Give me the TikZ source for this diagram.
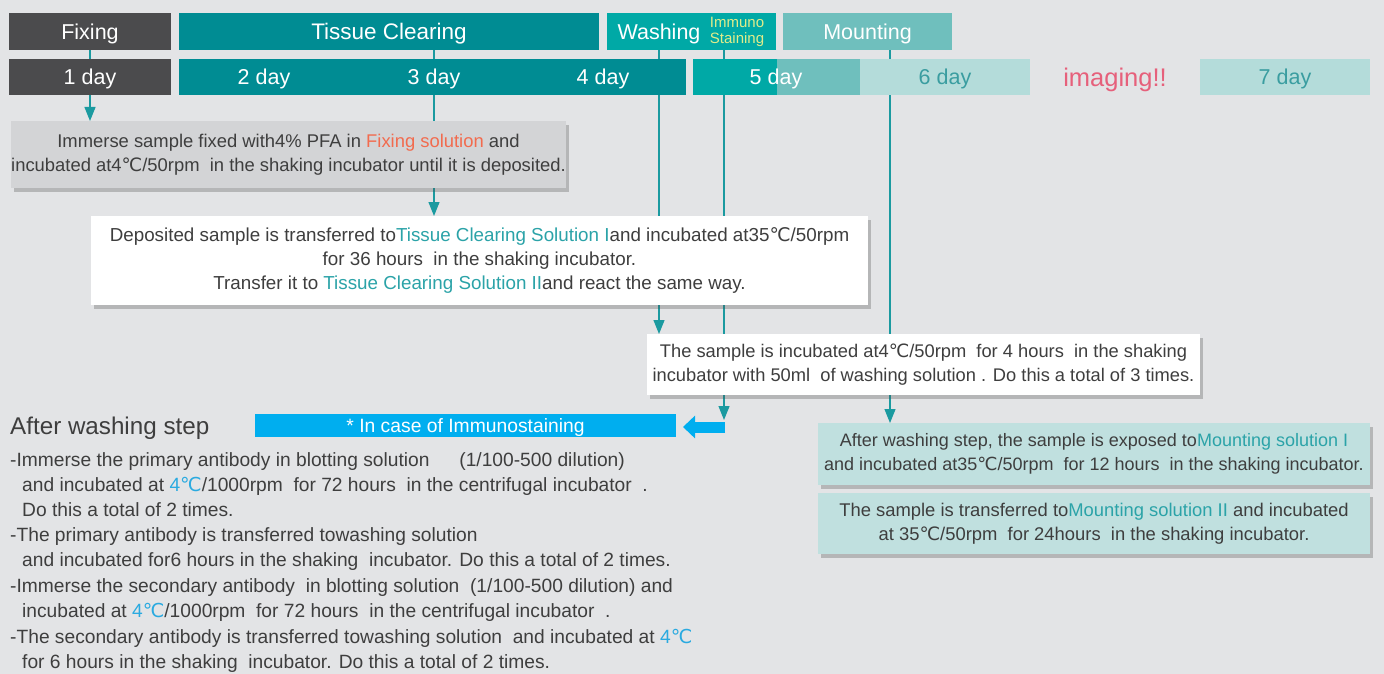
\documentclass[tikz,border=0pt]{standalone}
\usepackage{fontspec}
\setmainfont{Liberation Sans}
\newfontfamily\djv{DejaVu Sans}
\usetikzlibrary{arrows.meta,shadows}
\definecolor{bgc}{HTML}{E3E4E6}
\definecolor{darkg}{HTML}{4B4B4D}
\definecolor{tealA}{HTML}{008C93}
\definecolor{tealB}{HTML}{00A9A6}
\definecolor{tealC}{HTML}{6FBFBD}
\definecolor{tealD}{HTML}{B4DCDA}
\definecolor{greybox}{HTML}{D3D4D6}
\definecolor{mountbox}{HTML}{C0E0DF}
\definecolor{cyanC}{HTML}{00AEEF}
\definecolor{lineC}{HTML}{1B9AA0}
\definecolor{txt}{HTML}{3E3E3E}
\definecolor{orangeC}{HTML}{F26B4E}
\definecolor{hl}{HTML}{2BA3A8}
\definecolor{pinkC}{HTML}{E6607B}
\definecolor{daytxt}{HTML}{3A9DA0}
\definecolor{yel}{HTML}{E0EC8A}
\definecolor{cyt}{HTML}{2AAAE0}
\newcommand\degc{{\djv ℃}}
\pgfdeclarelayer{back}
\pgfdeclarelayer{lines}
\pgfsetlayers{back,lines,main}
\begin{document}
\begin{tikzpicture}[x=1pt,y=-1pt,
  bar/.style={anchor=north west,inner sep=0pt,outer sep=0pt,text=white,text depth=0pt,font=\fontsize{21.5}{24}\selectfont},
  daylbl/.style={text=white,text depth=0pt,font=\fontsize{21.5}{24}\selectfont,inner sep=0pt},
  infobox/.style={inner sep=0pt,outer sep=0pt,align=center,text=txt,font=\fontsize{18}{24}\selectfont,
    drop shadow={shadow xshift=3pt,shadow yshift=-4pt,opacity=0.3,fill=black!70}},
  conn/.style={draw=lineC,line width=1.2pt,-{Triangle[width=11pt,length=14pt]}},
  listline/.style={anchor=base west,inner sep=0pt,text=txt,font=\fontsize{19.2}{24}\selectfont},
]
\useasboundingbox (0,0) rectangle (1384,674);
\begin{pgfonlayer}{back}
\fill[bgc] (0,0) rectangle (1384,674);
\end{pgfonlayer}

% top row
\node[bar,fill=darkg,minimum width=162pt,minimum height=37pt] (fix) at (9,13) {Fixing};
\node[bar,fill=tealA,minimum width=420pt,minimum height=37pt,font=\fontsize{22.5}{24}\selectfont] (tc) at (179,13) {Tissue Clearing};
\node[bar,fill=tealB,minimum width=169pt,minimum height=37pt] (wash) at (607,13) {};
\node[daylbl] (washl) at (659,31.5) {Washing};
\node[inner sep=0pt,align=center,text=yel,font=\fontsize{15}{16}\selectfont] (imml) at (737,31.5) {Immuno\\Staining};
\node[bar,fill=tealC,minimum width=169pt,minimum height=37pt] (mount) at (783,13) {Mounting};

% second row
\node[bar,fill=darkg,minimum width=162pt,minimum height=36pt] (d1) at (9,59) {1 day};
\node[bar,fill=tealA,minimum width=507pt,minimum height=36pt] (d24) at (179,59) {};
\node[daylbl] (l2) at (264,77) {2 day};
\node[daylbl] (l3) at (434,77) {3 day};
\node[daylbl] (l4) at (603,77) {4 day};
\node[bar,fill=tealB,minimum width=84pt,minimum height=36pt] (d5a) at (693,59) {};
\node[bar,fill=tealC,minimum width=83pt,minimum height=36pt] (d5b) at (777,59) {};
\node[daylbl] (l5) at (776,77) {5 day};
\node[bar,fill=tealD,text=daytxt,minimum width=170pt,minimum height=36pt] (d6) at (860,59) {6 day};
\node[daylbl,text=pinkC,font=\fontsize{25.5}{28}\selectfont] (img) at (1115,77) {imaging!!};
\node[bar,fill=tealD,text=daytxt,minimum width=170pt,minimum height=36pt] (d7) at (1200,59) {7 day};

% boxes
\node[infobox,fill=greybox,minimum width=555pt,minimum height=67pt,font=\fontsize{18.4}{24}\selectfont] (gb) at (288.5,154.5)
 {Immerse sample fixed with4\% PFA in \textcolor{orangeC}{Fixing solution} and\\
  incubated at4\degc/50rpm\ \ in the shaking incubator until it is deposited.};
\node[infobox,fill=white,minimum width=777pt,minimum height=89pt,font=\fontsize{18.8}{24}\selectfont] (wb1) at (479.5,260.5)
 {Deposited sample is transferred to\textcolor{hl}{Tissue Clearing Solution I}and incubated at35\degc/50rpm\\
  for 36 hours\ \ in the shaking incubator.\\
  Transfer it to \textcolor{hl}{Tissue Clearing Solution II}and react the same way.};
\node[infobox,fill=white,minimum width=553pt,minimum height=61pt,font=\fontsize{18.3}{24}\selectfont] (wb2) at (923.5,364.5)
 {The sample is incubated at4\degc/50rpm\ \ for 4 hours\ \ in the shaking\\
  incubator with 50ml\ \ of washing solution\ . Do this a total of 3 times.};
\node[infobox,fill=mountbox,minimum width=552pt,minimum height=62pt] (mb1) at (1094,454)
 {After washing step, the sample is exposed to\textcolor{hl}{Mounting solution I}\\
  and incubated at35\degc/50rpm\ \ for 12 hours\ \ in the shaking incubator.};
\node[infobox,fill=mountbox,minimum width=552pt,minimum height=61pt,font=\fontsize{18.4}{24}\selectfont] (mb2) at (1094,523.5)
 {The sample is transferred to\textcolor{hl}{Mounting solution II} and incubated\\
  at 35\degc/50rpm\ \ for 24hours\ \ in the shaking incubator.};

% immunostaining bar
\node[inner sep=0pt,outer sep=0pt,fill=cyanC,text=white,text depth=0pt,minimum width=421pt,minimum height=23pt,
  font=\fontsize{19.3}{22}\selectfont] (ib) at (465.5,425.5) {* In case of Immunostaining};

% after washing text
\node[listline,font=\fontsize{24.2}{26}\selectfont] (aws) at (10,434) {After washing step};
\node[listline] (t1) at (10,466) {-Immerse the primary antibody in blotting solution\quad\ \ (1/100-500 dilution)};
\node[listline] (t2) at (22,491) {and incubated at \textcolor{cyt}{4\degc}/1000rpm\ \ for 72 hours\ \ in the centrifugal incubator\ \ .};
\node[listline] (t3) at (22,516) {Do this a total of 2 times.};
\node[listline] (t4) at (10,541) {-The primary antibody is transferred towashing solution};
\node[listline] (t5) at (22,566) {and incubated for6 hours in the shaking\ \ incubator. Do this a total of 2 times.};
\node[listline] (t6) at (10,592) {-Immerse the secondary antibody\ \ in blotting solution\ \ (1/100-500 dilution) and};
\node[listline] (t7) at (22,617) {incubated at \textcolor{cyt}{4\degc}/1000rpm\ \ for 72 hours\ \ in the centrifugal incubator\ \ .};
\node[listline] (t8) at (10,643) {-The secondary antibody is transferred towashing solution\ \ and incubated at \textcolor{cyt}{4\degc}};
\node[listline] (t9) at (22,668) {for 6 hours in the shaking\ \ incubator. Do this a total of 2 times.};

% connectors
\coordinate (c2) at (434,50);
\coordinate (c3) at (659,50);
\coordinate (c4) at (724,50);
\coordinate (c4e) at (724,420);
\coordinate (c5) at (890,50);
\coordinate (ba) at (725,427);
\begin{pgfonlayer}{lines}
\draw[conn] (fix.south) -- (fix.south |- gb.north);
\draw[conn] (c2) -- (c2 |- wb1.north);
\draw[conn] (c3) -- (c3 |- wb2.north);
\draw[conn] (c4) -- (c4e);
\draw[conn] (c5) -- (c5 |- mb1.north);
\end{pgfonlayer}
\draw[cyanC,line width=11pt,shorten >=7pt,-{Triangle[width=22pt,length=12pt]}] (ba) -- (ba -| ib.east);
\end{tikzpicture}
\end{document}
